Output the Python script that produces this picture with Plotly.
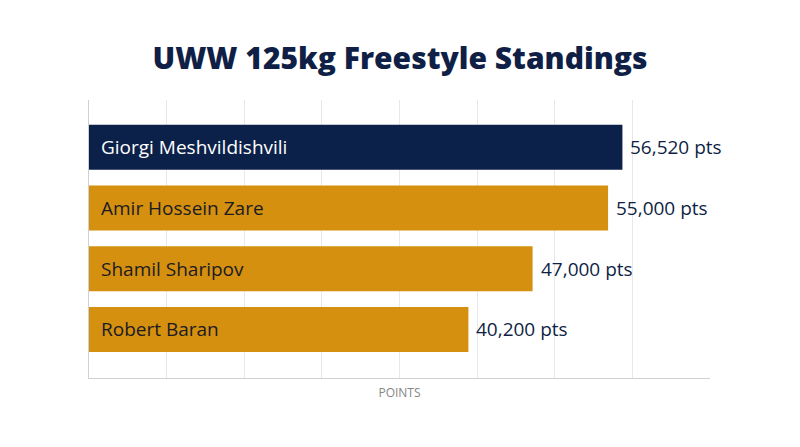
import plotly.graph_objects as go

athletes = ["Giorgi Meshvildishvili", "Amir Hossein Zare", "Shamil Sharipov", "Robert Baran"]
points = [56520, 55000, 47000, 40200]
value_labels = ["56,520 pts", "55,000 pts", "47,000 pts", "40,200 pts"]
bar_colors = ["#0c2149", "#d4900e", "#d4900e", "#d4900e"]
name_colors = ["#ffffff", "#1b1b24", "#1b1b24", "#1b1b24"]

NAVY = "#0f1f45"
FONT = "Open Sans"

fig = go.Figure()
fig.add_trace(go.Bar(
    y=athletes, x=points, orientation="h",
    marker=dict(color=bar_colors, line=dict(width=0)),
    hoverinfo="skip", showlegend=False,
))

annotations = []
for name, val, lab, nc in zip(athletes, points, value_labels, name_colors):
    annotations.append(dict(x=0, y=name, xref="x", yref="y", text=name,
                            xanchor="left", yanchor="middle", xshift=10, showarrow=False,
                            font=dict(family=FONT, size=19, color=nc)))
    annotations.append(dict(x=val, y=name, xref="x", yref="y", text=lab,
                            xanchor="left", yanchor="middle", xshift=6, showarrow=False,
                            font=dict(family=FONT, size=19, color=NAVY)))

XMAX = 65800
fig.update_layout(
    width=800, height=447,
    margin=dict(l=89, r=90, t=100, b=69),
    paper_bgcolor="white", plot_bgcolor="white",
    title=dict(text="UWW 125kg Freestyle Standings", x=0.5, xanchor="center",
               y=0.87, yanchor="middle",
               font=dict(family=FONT, size=30, color=NAVY, weight=800)),
    bargap=0.258,
    xaxis=dict(range=[0, XMAX], dtick=XMAX / 8, tick0=0, showticklabels=False,
               showgrid=True, gridcolor="#e8e8ec", gridwidth=1, zeroline=False,
               showline=True, linecolor="#cfd0d6", linewidth=1, ticks="",
               title=dict(text="POINTS", font=dict(family=FONT, size=12, color="#858585"),
                          standoff=10)),
    yaxis=dict(range=[3.8, -0.78], showticklabels=False, showgrid=False,
               showline=True, linecolor="#cfd0d6", linewidth=1, ticks="", zeroline=False),
    annotations=annotations,
)

fig.write_html("out.html", config={"displayModeBar": False},
               post_script="document.body.style.margin='0';document.body.style.overflow='hidden';")
